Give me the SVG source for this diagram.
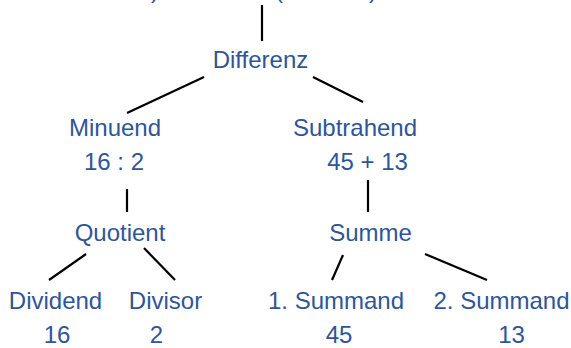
<svg xmlns="http://www.w3.org/2000/svg" width="571" height="348" viewBox="0 0 571 348">
<style>
.t{font-family:"Liberation Sans",Arial,sans-serif;font-size:24px;fill:#2F5597;text-anchor:middle}
.c line{stroke:#000;stroke-width:2.2;stroke-linecap:butt}
</style>
<rect width="571" height="348" fill="#fff"/>
<g id="top-fragment">
<text class="t" x="155" y="-2">)</text>
<text class="t" x="279" y="-2">(</text>
<text class="t" x="373" y="-2">)</text>
</g>
<g class="c" id="connectors">
<line x1="262" y1="5" x2="262" y2="41"/>
<line x1="204" y1="77" x2="127" y2="113"/>
<line x1="313" y1="77" x2="363" y2="102"/>
<line x1="127" y1="189" x2="127" y2="212"/>
<line x1="368" y1="180" x2="368" y2="212"/>
<line x1="86" y1="254" x2="49" y2="280"/>
<line x1="144" y1="248" x2="175" y2="280"/>
<line x1="343" y1="255" x2="332" y2="280"/>
<line x1="425" y1="254" x2="487" y2="280"/>
</g>
<g id="differenz"><text class="t" x="260.5" y="68">Differenz</text></g>
<g id="minuend"><text class="t" x="115" y="136">Minuend</text><text class="t" x="114" y="170">16 : 2</text></g>
<g id="subtrahend"><text class="t" x="355" y="136">Subtrahend</text><text class="t" x="367.5" y="170">45 + 13</text></g>
<g id="quotient"><text class="t" x="120" y="241">Quotient</text></g>
<g id="summe"><text class="t" x="370.5" y="241">Summe</text></g>
<g id="dividend"><text class="t" x="55.5" y="309">Dividend</text><text class="t" x="57" y="343">16</text></g>
<g id="divisor"><text class="t" x="165.5" y="309">Divisor</text><text class="t" x="156.5" y="343">2</text></g>
<g id="summand1"><text class="t" x="336" y="309">1. Summand</text><text class="t" x="339" y="343">45</text></g>
<g id="summand2"><text class="t" x="501.5" y="309">2. Summand</text><text class="t" x="511.5" y="343">13</text></g>
</svg>
